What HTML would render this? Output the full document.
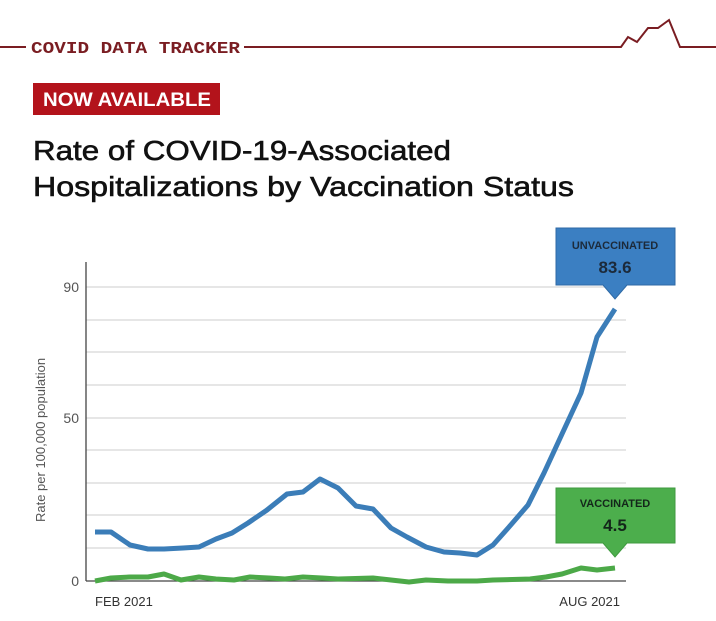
<!DOCTYPE html>
<html><head><meta charset="utf-8"><style>
html,body{margin:0;padding:0;background:#fff;}
svg{display:block;}
text{font-family:"Liberation Sans",sans-serif;}
text.mono{font-family:"Liberation Mono",monospace;}
</style></head><body>
<svg width="716" height="621" viewBox="0 0 716 621" xmlns="http://www.w3.org/2000/svg">
<rect width="716" height="621" fill="#fff"/>
<!-- header -->
<line x1="0" y1="47" x2="26" y2="47" stroke="#7a1d22" stroke-width="2"/>
<polyline points="244,47 621,47 628,37 637,42 648,28 658,28 669,20 680,47 716,47" fill="none" stroke="#7a1d22" stroke-width="2"/>
<text class="mono" x="31" y="53" font-weight="bold" font-size="17" fill="#7a1d22" textLength="209" lengthAdjust="spacingAndGlyphs">COVID DATA TRACKER</text>
<rect x="33" y="83" width="187" height="32" fill="#b3131b"/>
<text x="43" y="106" font-weight="bold" font-size="19" fill="#fff" textLength="168" lengthAdjust="spacingAndGlyphs">NOW AVAILABLE</text>
<text x="33" y="160" font-size="28" fill="#111" stroke="#111" stroke-width="0.6" textLength="418" lengthAdjust="spacingAndGlyphs">Rate of COVID-19-Associated</text>
<text x="33" y="196" font-size="28" fill="#111" stroke="#111" stroke-width="0.6" textLength="541" lengthAdjust="spacingAndGlyphs">Hospitalizations by Vaccination Status</text>
<!-- grid -->
<g stroke="#d8d8d8" stroke-width="1.3">
<line x1="86" y1="287" x2="626" y2="287"/>
<line x1="86" y1="320" x2="626" y2="320"/>
<line x1="86" y1="352" x2="626" y2="352"/>
<line x1="86" y1="385" x2="626" y2="385"/>
<line x1="86" y1="418" x2="626" y2="418"/>
<line x1="86" y1="450" x2="626" y2="450"/>
<line x1="86" y1="483" x2="626" y2="483"/>
<line x1="86" y1="515" x2="626" y2="515"/>
<line x1="86" y1="548" x2="626" y2="548"/>
</g>
<line x1="86" y1="262" x2="86" y2="581" stroke="#444" stroke-width="1.3"/>
<line x1="86" y1="581" x2="626" y2="581" stroke="#444" stroke-width="1.3"/>
<text x="79" y="292" font-size="14" fill="#555" text-anchor="end">90</text>
<text x="79" y="423" font-size="14" fill="#555" text-anchor="end">50</text>
<text x="79" y="586" font-size="14" fill="#555" text-anchor="end">0</text>
<text transform="translate(45,440) rotate(-90)" font-size="13" fill="#555" text-anchor="middle">Rate per 100,000 population</text>
<text x="95" y="606" font-size="13" fill="#333">FEB 2021</text>
<text x="620" y="606" font-size="13" fill="#333" text-anchor="end">AUG 2021</text>
<!-- series -->
<polyline fill="none" stroke="#4ca948" stroke-width="5" stroke-linejoin="round" points="95,581 111,578 130,577 148,577 164,574 181,580 199,577 216,579 234,580 250,577 269,578 285,579 303,577 322,578 338,579 373,578 391,580 409,582 426,580 448,581 477,581 493,580 530,579 546,577 562,574 581,568 597,570 615,568"/>
<polyline fill="none" stroke="#3b7db8" stroke-width="5" stroke-linejoin="round" points="95,532 111,532 130,545 148,549 164,549 183,548 199,547 216,539 232,533 248,523 267,510 287,494 303,492 320,479 338,488 356,506 373,509 391,528 407,537 426,547 444,552 460,553 477,555 493,545 509,527 528,505 544,473 562,434 581,393 597,337 615,309"/>
<!-- callouts -->
<path d="M556,228 H675 V285 H627 L615,299 L603,285 H556 Z" fill="#3b7fc2" stroke="#2f6aa5" stroke-width="1"/>
<text x="615" y="249" font-size="11" font-weight="bold" fill="#1c2a3a" text-anchor="middle">UNVACCINATED</text>
<text x="615" y="273" font-size="17" font-weight="bold" fill="#1c2a3a" text-anchor="middle">83.6</text>
<path d="M556,488 H675 V543 H627 L615,557 L603,543 H556 Z" fill="#4cae4c" stroke="#3f9a3f" stroke-width="1"/>
<text x="615" y="507" font-size="11" font-weight="bold" fill="#13261a" text-anchor="middle">VACCINATED</text>
<text x="615" y="531" font-size="17" font-weight="bold" fill="#13261a" text-anchor="middle">4.5</text>
</svg>
</body></html>
